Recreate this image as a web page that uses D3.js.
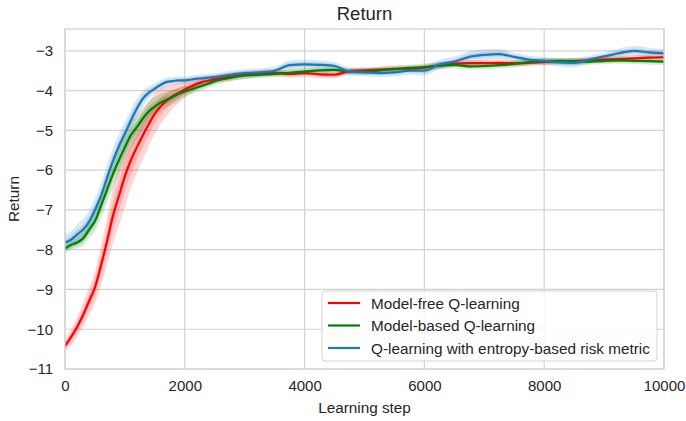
<!DOCTYPE html>
<html>
<head>
<meta charset="utf-8">
<script src="https://cdn.jsdelivr.net/npm/d3@7"></script>
<style>
  body { margin: 0; background: #fff; }
  text { font-family: "Liberation Sans", Arial, sans-serif; fill: #262626; }
</style>
</head>
<body>
<div id="chart"></div>
<script>
// learning steps (x)
const steps = [0, 100, 200, 300, 400, 500, 600, 700, 800, 900, 1000, 1100, 1200, 1300, 1400,
    1500, 1600, 1700, 1800, 1900, 2000, 2100, 2200, 2300, 2400, 2500,
    2750, 3000, 3250, 3500, 3750, 4000, 4250, 4500, 4750, 5000, 5250, 5500, 5750, 6000,
    6250, 6500, 6750, 7000, 7250, 7500, 7750, 8000, 8250, 8500, 8750, 9000, 9250, 9500, 9750, 10000];

const modelFree = [-10.42, -10.2, -9.95, -9.65, -9.3, -8.95, -8.4, -7.8, -7.15, -6.65, -6.15, -5.75, -5.42, -5.12, -4.84,
    -4.58, -4.39, -4.25, -4.14, -4.06, -3.97, -3.9, -3.83, -3.78, -3.75, -3.71,
    -3.65, -3.6, -3.57, -3.55, -3.58, -3.56, -3.59, -3.6, -3.51, -3.49, -3.47, -3.45, -3.45, -3.42,
    -3.37, -3.32, -3.31, -3.31, -3.3, -3.31, -3.3, -3.28, -3.27, -3.26, -3.24, -3.22, -3.21, -3.19, -3.17, -3.16];
const modelBased = [-7.97, -7.88, -7.82, -7.72, -7.5, -7.28, -6.9, -6.5, -6.1, -5.75, -5.42, -5.12, -4.92, -4.7, -4.52,
    -4.4, -4.3, -4.22, -4.16, -4.08, -4.02, -3.97, -3.92, -3.87, -3.82, -3.76,
    -3.68, -3.62, -3.6, -3.58, -3.55, -3.52, -3.49, -3.48, -3.52, -3.52, -3.49, -3.46, -3.43, -3.41,
    -3.37, -3.35, -3.39, -3.38, -3.36, -3.33, -3.28, -3.26, -3.25, -3.26, -3.27, -3.25, -3.24, -3.25, -3.26, -3.27];
const entropyRisk = [-7.82, -7.75, -7.62, -7.5, -7.3, -7.0, -6.65, -6.2, -5.77, -5.4, -5.08, -4.75, -4.45, -4.2, -4.05,
    -3.95, -3.85, -3.78, -3.76, -3.74, -3.74, -3.72, -3.7, -3.69, -3.67, -3.66,
    -3.6, -3.56, -3.54, -3.5, -3.36, -3.34, -3.35, -3.38, -3.52, -3.54, -3.56, -3.54, -3.5, -3.5,
    -3.34, -3.27, -3.15, -3.1, -3.08, -3.15, -3.22, -3.25, -3.29, -3.3, -3.22, -3.14, -3.06, -3.0, -3.04, -3.06];

// half-width of the shaded band around each curve
const modelFreeSpread = [0.15, 0.2, 0.25, 0.3, 0.35, 0.4, 0.5, 0.6, 0.7, 0.75, 0.75, 0.7, 0.65, 0.6, 0.55,
    0.5, 0.45, 0.38, 0.3, 0.25, 0.2, 0.17, 0.15, 0.13, 0.12, 0.11,
    0.1, 0.1, 0.09, 0.09, 0.09, 0.09, 0.09, 0.09, 0.08, 0.08, 0.08, 0.08, 0.08, 0.08,
    0.08, 0.08, 0.08, 0.08, 0.08, 0.08, 0.08, 0.08, 0.08, 0.08, 0.08, 0.08, 0.08, 0.08, 0.08, 0.08];
const modelBasedSpread = [0.1, 0.12, 0.15, 0.18, 0.22, 0.26, 0.3, 0.33, 0.35, 0.35, 0.35, 0.33, 0.3, 0.28, 0.26,
    0.24, 0.22, 0.2, 0.18, 0.16, 0.14, 0.13, 0.12, 0.11, 0.1, 0.1,
    0.09, 0.09, 0.08, 0.08, 0.08, 0.08, 0.08, 0.08, 0.08, 0.08, 0.08, 0.08, 0.08, 0.09,
    0.09, 0.09, 0.08, 0.08, 0.08, 0.08, 0.08, 0.08, 0.08, 0.08, 0.08, 0.08, 0.08, 0.08, 0.08, 0.08];
const entropyRiskSpread = [0.2, 0.22, 0.25, 0.27, 0.28, 0.3, 0.32, 0.33, 0.33, 0.32, 0.3, 0.28, 0.25, 0.2, 0.16,
    0.13, 0.12, 0.11, 0.1, 0.1, 0.1, 0.1, 0.1, 0.1, 0.1, 0.1,
    0.1, 0.1, 0.1, 0.1, 0.12, 0.12, 0.11, 0.1, 0.1, 0.1, 0.1, 0.1, 0.1, 0.12,
    0.12, 0.12, 0.14, 0.14, 0.13, 0.1, 0.1, 0.1, 0.1, 0.12, 0.1, 0.1, 0.12, 0.12, 0.12, 0.1];

const labels = ["Model-free Q-learning", "Model-based Q-learning", "Q-learning with entropy-based risk metric"];
const colors = ["#ff0000", "#008000", "#1f77b4"];
const xTicks = [0, 2000, 4000, 6000, 8000, 10000];
const yTicks = [-11, -10, -9, -8, -7, -6, -5, -4, -3];

const W = 686, H = 421;
const margin = {top: 29, right: 22, bottom: 52, left: 65};
const width = W - margin.left - margin.right,
      height = H - margin.top - margin.bottom;

const svg = d3.select("#chart").append("svg")
    .attr("width", W).attr("height", H);

const g = svg.append("g").attr("transform", `translate(${margin.left},${margin.top})`);

const x = d3.scaleLinear().domain([0, 10000]).range([0, width]);
const y = d3.scaleLinear().domain([-11, -2.45]).range([height, 0]);

const gridColor = "#d3d3d3";

// grid
g.selectAll(".gx").data(xTicks).enter().append("line")
    .attr("x1", d => x(d)).attr("x2", d => x(d))
    .attr("y1", 0).attr("y2", height)
    .attr("stroke", gridColor).attr("stroke-width", 1.2);
g.selectAll(".gy").data(yTicks).enter().append("line")
    .attr("x1", 0).attr("x2", width)
    .attr("y1", d => y(d)).attr("y2", d => y(d))
    .attr("stroke", gridColor).attr("stroke-width", 1.2);

// axes (labels only, seaborn whitegrid style)
const fmt = d => d3.format("d")(d).replace("-", "\u2212");
const xAxis = g.append("g").attr("transform", `translate(0,${height})`)
    .call(d3.axisBottom(x).tickValues(xTicks).tickSize(0).tickPadding(11).tickFormat(fmt));
const yAxis = g.append("g")
    .call(d3.axisLeft(y).tickValues(yTicks).tickSize(0).tickPadding(12).tickFormat(fmt));
[xAxis, yAxis].forEach(a => {
    a.select(".domain").remove();
    a.selectAll("text").style("font-size", "15px").attr("fill", "#262626")
        .style("font-family", "'Liberation Sans', Arial, sans-serif");
});

const series = [modelFree, modelBased, entropyRisk];
const spreads = [modelFreeSpread, modelBasedSpread, entropyRiskSpread];

const clip = g.append("clipPath").attr("id", "clip").append("rect")
    .attr("width", width).attr("height", height);
const plot = g.append("g").attr("clip-path", "url(#clip)");

// shaded bands: outer and inner
series.forEach((vals, i) => {
    [1, 0.5].forEach(k => {
        const area = d3.area()
            .x((d, j) => x(steps[j]))
            .y0((d, j) => y(d - spreads[i][j] * k))
            .y1((d, j) => y(d + spreads[i][j] * k))
            .curve(d3.curveMonotoneX);
        plot.append("path").datum(vals)
            .attr("d", area)
            .attr("fill", colors[i])
            .attr("fill-opacity", 0.17);
    });
});

series.forEach((vals, i) => {
    const line = d3.line()
        .x((d, j) => x(steps[j]))
        .y(d => y(d))
        .curve(d3.curveMonotoneX);
    plot.append("path").datum(vals)
        .attr("d", line)
        .attr("fill", "none")
        .attr("stroke", colors[i])
        .attr("stroke-width", 2.2);
});

// frame
g.append("rect").attr("width", width).attr("height", height)
    .attr("fill", "none").attr("stroke", gridColor).attr("stroke-width", 1.3);

// title and axis labels
svg.append("text").attr("x", margin.left + width / 2).attr("y", 20)
    .attr("text-anchor", "middle").style("font-size", "18.5px").text("Return");
svg.append("text").attr("x", margin.left + width / 2).attr("y", 413)
    .attr("text-anchor", "middle").style("font-size", "15.3px").text("Learning step");
svg.append("text")
    .attr("transform", `translate(19,${margin.top + height / 2}) rotate(-90)`)
    .attr("text-anchor", "middle").style("font-size", "15.3px").text("Return");

// legend
const lg = svg.append("g").attr("transform", "translate(322,291)");
lg.append("rect").attr("width", 335).attr("height", 70).attr("rx", 3)
    .attr("fill", "#fff").attr("fill-opacity", 0.8)
    .attr("stroke", "#d3d3d3").attr("stroke-width", 1);
labels.forEach((lab, i) => {
    const yy = 12 + i * 22.5;
    lg.append("line").attr("x1", 6).attr("x2", 38).attr("y1", yy).attr("y2", yy)
        .attr("stroke", colors[i]).attr("stroke-width", 2.2);
    lg.append("text").attr("x", 49).attr("y", yy + 5.5)
        .style("font-size", "15.3px").text(lab);
});
</script>
</body>
</html>
